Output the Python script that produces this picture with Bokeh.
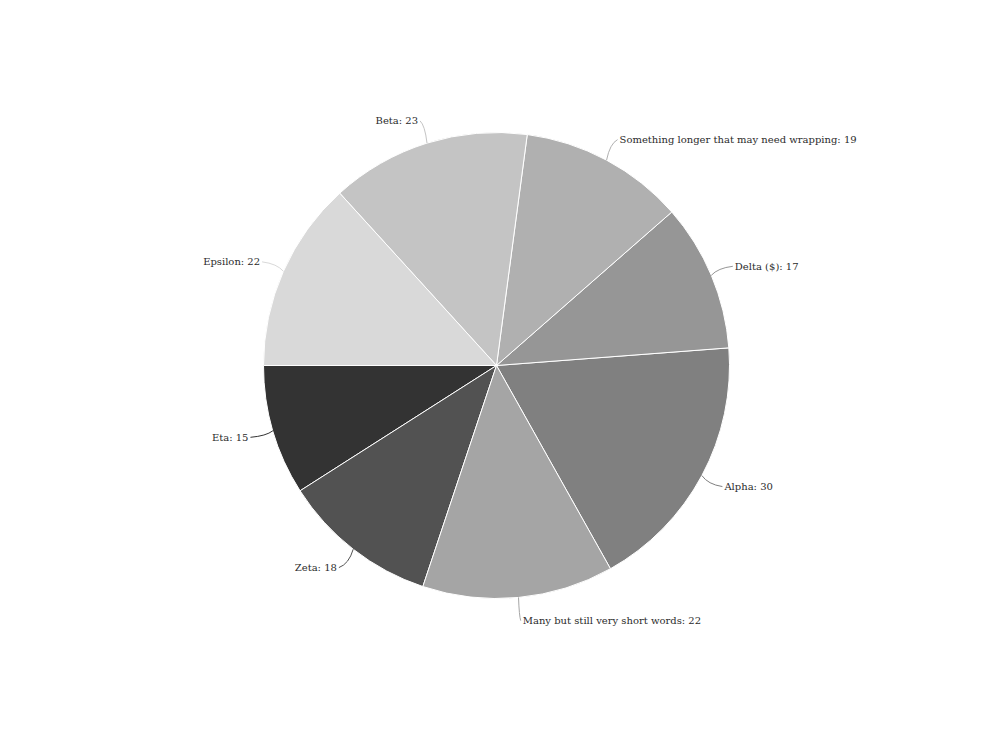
import math
from bokeh.plotting import figure
from bokeh.models import Range1d, ColumnDataSource
from bokeh.core.properties import value
from bokeh.embed import file_html
from bokeh.resources import INLINE

# Data (in counter-clockwise drawing order)
categories = ["Alpha", "Delta ($)", "Something longer that may need wrapping",
              "Beta", "Epsilon", "Eta", "Zeta", "Many but still very short words"]
values = [30, 17, 19, 23, 22, 15, 18, 22]
colors = ["#808080", "#969696", "#b0b0b0", "#c4c4c4", "#d9d9d9",
          "#333333", "#525252", "#a5a5a5"]

W, H = 992, 744
CX, CY = 496, H - 365
R = 233
START_DEG = -60.72

total = sum(values)
starts, ends, mids = [], [], []
acc = math.radians(START_DEG)
for v in values:
    a = v / total * 2 * math.pi
    starts.append(acc)
    ends.append(acc + a)
    mids.append(acc + a / 2)
    acc += a

p = figure(width=W, height=H, x_range=Range1d(0, W), y_range=Range1d(0, H),
           output_backend="svg", toolbar_location=None, min_border=0)
p.axis.visible = False
p.grid.visible = False
p.outline_line_color = None
p.background_fill_color = "white"
p.border_fill_color = "white"

src = ColumnDataSource(dict(x=[CX] * len(values), y=[CY] * len(values),
                            s=starts, e=ends, c=colors))
p.wedge(x="x", y="y", radius=R, start_angle="s", end_angle="e",
        fill_color="c", line_color="white", line_width=1, source=src)

# leader lines and labels
x0, y0, x1, y1, qx, qy = [], [], [], [], [], []
lx, ly, lt = [], [], []
rx, ry, rt = [], [], []
for cat, v, m in zip(categories, values, mids):
    sx, sy = CX + R * math.cos(m), CY + R * math.sin(m)
    ex, ey = CX + 1.1 * R * math.cos(m), CY + 1.1 * R * math.sin(m)
    x0.append(sx); y0.append(sy); x1.append(ex); y1.append(ey)
    qx.append(sx + 0.3 * (ex - sx)); qy.append(sy + 0.8 * (ey - sy))
    label = f"{cat}: {v}"
    if math.cos(m) >= 0:
        rx.append(ex + 2); ry.append(ey); rt.append(label)
    else:
        lx.append(ex - 2); ly.append(ey); lt.append(label)

p.quadratic(x0=x0, y0=y0, x1=x1, y1=y1, cx=qx, cy=qy,
            line_color=colors, line_width=1)

p.text(x=rx, y=ry, text=rt, text_align="left", text_baseline="middle",
       text_font=value("DejaVu Serif"), text_font_size="10px", text_color="#2b2b2b")
p.text(x=lx, y=ly, text=lt, text_align="right", text_baseline="middle",
       text_font=value("DejaVu Serif"), text_font_size="10px", text_color="#2b2b2b")

open("out.html", "w").write(file_html(p, INLINE))
